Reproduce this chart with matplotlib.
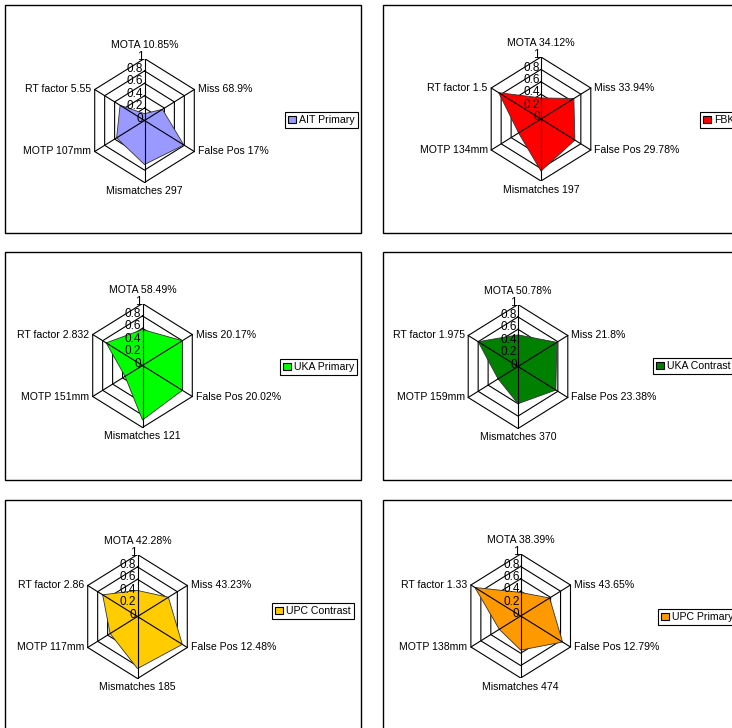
import numpy as np
import matplotlib
matplotlib.use("Agg")
import matplotlib.pyplot as plt
from matplotlib.patches import Patch, Rectangle

# data
teams = ["AIT Primary", "FBK", "UKA Primary", "UKA Contrast", "UPC Contrast", "UPC Primary"]
colors = ["#9999FF", "#FF0000", "#00FF00", "#008000", "#FFCC00", "#FF9900"]
mota = ["10.85%", "34.12%", "58.49%", "50.78%", "42.28%", "38.39%"]
miss = ["68.9%", "33.94%", "20.17%", "21.8%", "43.23%", "43.65%"]
false_pos = ["17%", "29.78%", "20.02%", "23.38%", "12.48%", "12.79%"]
mismatches = ["297", "197", "121", "370", "185", "474"]
motp = ["107mm", "134mm", "151mm", "159mm", "117mm", "138mm"]
rt_factor = ["5.55", "1.5", "2.832", "1.975", "2.86", "1.33"]
# normalised radar scores: MOTA, Miss, False Pos, Mismatches, MOTP, RT factor
scores = [
    [0.11, 0.36, 0.79, 0.71, 0.56, 0.49],
    [0.34, 0.66, 0.68, 0.84, 0.45, 0.85],
    [0.58, 0.80, 0.80, 0.88, 0.35, 0.73],
    [0.51, 0.78, 0.76, 0.60, 0.40, 0.80],
    [0.42, 0.62, 0.90, 0.84, 0.55, 0.70],
    [0.38, 0.58, 0.84, 0.55, 0.43, 0.92],
]
ticks = [0, 0.2, 0.4, 0.6, 0.8, 1]

W, H = 732, 728
RX, RY = 57.5, 62  # outer ring radius in pixels (the original is a bit stretched vertically)
plt.rcParams['font.family'] = ['Liberation Sans', 'DejaVu Sans']
FS = 7.6

# pixel layout: box corner, radar center, legend left/center y
boxes = [(5, 5), (383, 5), (5, 252), (383, 252), (5, 500), (383, 500)]
centers = [(144.5, 120.5), (541, 119), (142.5, 365.5), (518, 366.5), (137.5, 616.5), (520.7, 616)]
legpos = [(285, 120), (700, 120), (280, 367), (653, 366), (272, 611), (658, 617)]

fig = plt.figure(figsize=(W / 100, H / 100), dpi=100)
fig.patch.set_facecolor("white")

def fx(px):
    return px / W

def fy(py):
    return 1 - py / H

ang = np.deg2rad(90 - 60 * np.arange(6))
ang_c = np.append(ang, ang[0])

for i, team in enumerate(teams):
    bx, by = boxes[i]
    bh = 228 if by < 400 else 240
    fig.add_artist(Rectangle((fx(bx), fy(by + bh)), 356 / W, bh / H, transform=fig.transFigure,
                             fill=False, edgecolor="black", lw=1.0))

    cx, cy = centers[i]
    ax = fig.add_axes([fx(cx - RX), fy(cy + RY), 2 * RX / W, 2 * RY / H])
    ax.set_xlim(-1, 1)
    ax.set_ylim(-1, 1)
    ax.axis("off")

    #anillos hexagonales
    for r in ticks[1:]:
        ax.plot(r * np.cos(ang_c), r * np.sin(ang_c), color="black", lw=0.8, zorder=1)
    v = np.array(scores[i] + [scores[i][0]])
    ax.fill(v * np.cos(ang_c), v * np.sin(ang_c), facecolor=colors[i], edgecolor="#333333",
            lw=0.6, zorder=2)
    for a in ang:
        ax.plot([0, np.cos(a)], [0, np.sin(a)], color="black", lw=0.8, zorder=3)

    for t in ticks:
        ax.text(-0.02, t + 0.03, f"{t:g}", ha="right", va="center", fontsize=8.5,
                zorder=4, clip_on=False)

    labels = ["MOTA " + mota[i], "Miss " + miss[i], "False Pos " + false_pos[i],
              "Mismatches " + mismatches[i], "MOTP " + motp[i], "RT factor " + rt_factor[i]]
    aligns = [("center", "bottom"), ("left", "center"), ("left", "center"),
              ("center", "top"), ("right", "center"), ("right", "center")]
    offs = [(0, 0.14), (0.06, 0), (0.06, 0), (0, -0.06), (-0.06, 0), (-0.06, 0)]
    for k in range(6):
        ax.text(np.cos(ang[k]) + offs[k][0], np.sin(ang[k]) + offs[k][1], labels[k],
                ha=aligns[k][0], va=aligns[k][1], fontsize=FS, clip_on=False)

    lx, ly = legpos[i]
    leg = fig.legend(handles=[Patch(facecolor=colors[i], edgecolor="black", lw=0.8)],
                     labels=[team], loc="center left", bbox_to_anchor=(fx(lx), fy(ly)),
                     frameon=True, fancybox=False, edgecolor="black", framealpha=1,
                     borderpad=0.3, handlelength=0.7, handleheight=0.7, handletextpad=0.3,
                     borderaxespad=0, fontsize=FS)
    leg.get_frame().set_linewidth(0.8)

fig.savefig("out.png", dpi=100)
